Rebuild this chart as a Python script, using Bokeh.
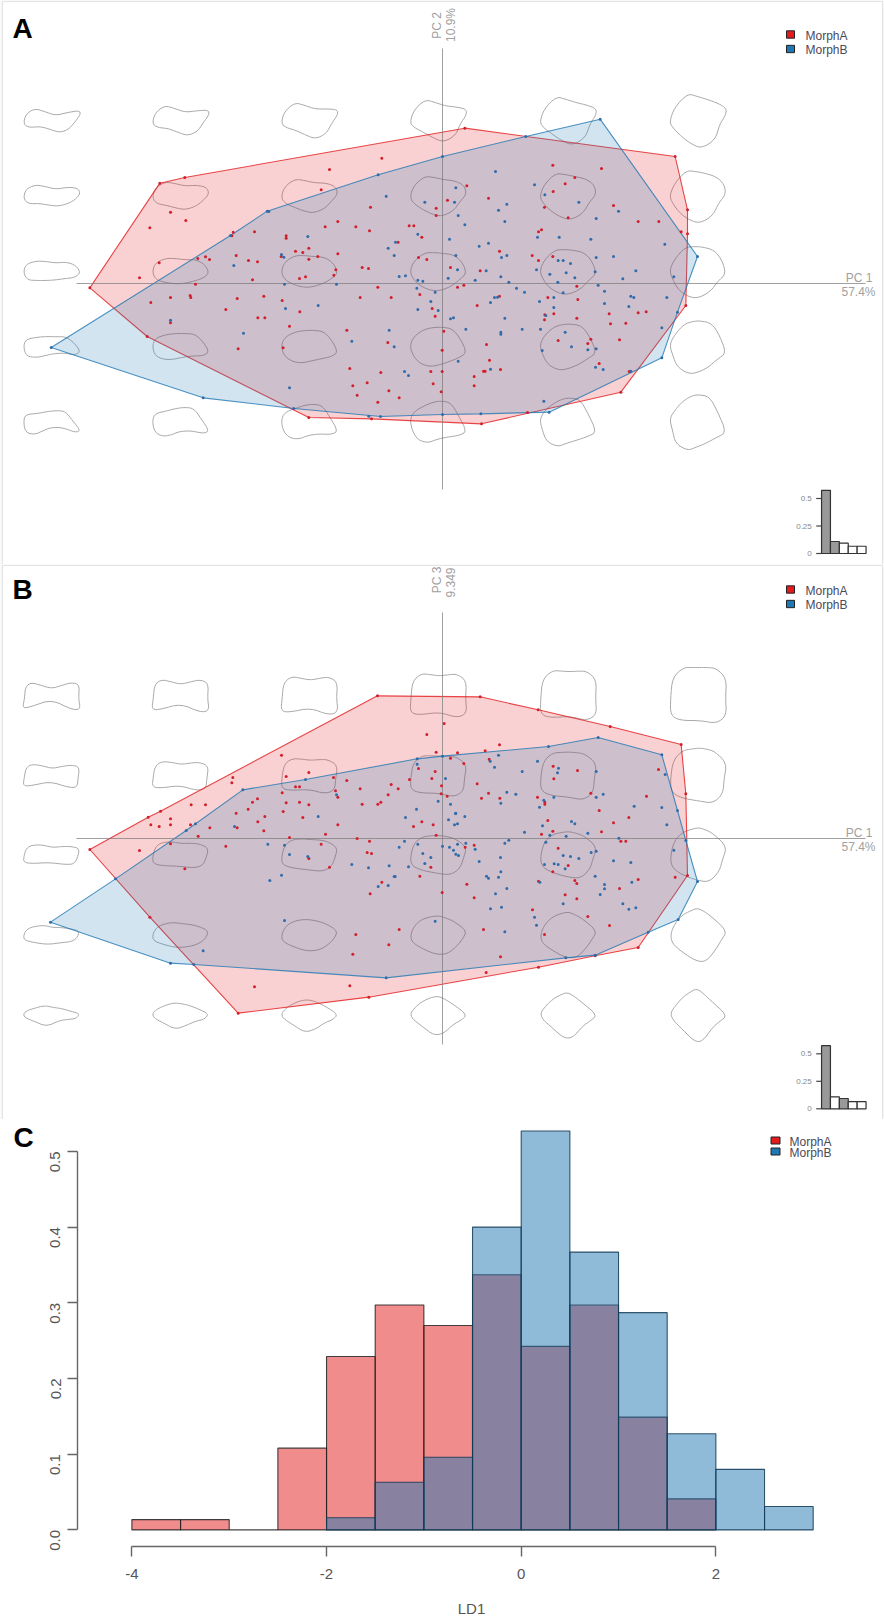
from bokeh.plotting import figure
from bokeh.models import Range1d, Label, LinearAxis, FixedTicker
from bokeh.layouts import column, row
from bokeh.core.properties import value
from bokeh.embed import file_html
from bokeh.resources import INLINE
import math

a_hull_red = [(-848,301),(-773,318),(67,466),(698,381),(735,221),(735,149),(730,-66),(535,-326),(117,-421),(-213,-406),(-401,-402),(-886,-159),(-1058,-13)]
a_hull_blue = [(473,493),(765,81),(705,-86),(658,-223),(320,-386),(115,-391),(0,-393),(-186,-399),(-446,-375),(-718,-343),(-1174,-192),(-636,144),(-526,217),(-193,326),(0,381),(250,441)]
b_hull_red = [(-195,428),(113,425),(287,386),(503,336),(716,282),(730,134),(735,-111),(587,-327),(458,-352),(288,-386),(-221,-476),(-613,-524),(-878,-236),(-1058,-33),(-883,64),(-846,82)]
b_hull_blue = [(467,303),(658,251),(705,84),(730,-6),(765,-129),(707,-243),(617,-281),(458,-350),(370,-358),(-169,-418),(-746,-378),(-816,-374),(-1176,-251),(-981,-121),(-769,24),(-599,146),(-411,177),(-76,239),(0,247),(318,276)]

a_red = [(-182,376),(-339,342),(-364,281),(-816,214),(-770,189),(-878,167),(-216,229),(-19,226),(-19,204),(-314,186),(-352,170),(-260,170),(-219,158),(-100,173),(-86,173),(-133,124),(-62,139),(-564,155),(-628,154),(-632,143),(-469,143),(-469,136),(-619,84),(-582,69),(-555,65),(-441,97),(-419,93),(-401,106),(-374,81),(-401,73),(-484,81),(-314,89),(-72,78),(-47,72),(-734,75),(-711,80),(-699,72),(-850,62),(-241,48),(-222,45),(-320,41),(-326,25),(-411,20),(-429,15),(-570,11),(-909,17),
 (-741,-2),(-194,-11),(-68,-33),(-816,-42),(-757,-36),(-755,-42),(-875,-57),(-616,-45),(-536,-38),(-481,-51),(-247,-42),(-154,-42),(-650,-78),(-428,-85),(-31,-75),(-22,-98),(-554,-103),(-533,-103),(-459,-128),(-287,-140),(-164,-177),(-613,-196),(-478,-193),(-1,-200),(-816,-118),(-278,-255),(-185,-267),(-35,-264),(-1,-264),(-226,-298),(-28,-301),(-269,-307),(-161,-322),(-4,-325),(-256,-335),(-130,-343),(-194,-356),
 (331,355),(477,345),(397,318),(368,299),(73,293),(15,250),(138,256),(332,276),(513,234),(306,229),(377,197),(587,186),(649,186),(716,155),(297,161),(288,155),(171,97),(269,84),(288,69),(331,81),(24,48),(113,38),
 (403,-8),(64,-5),(45,-11),(316,-42),(406,-48),(171,-38),(104,-66),(500,-91),(334,-91),(307,-94),(587,-88),(611,-85),(403,-104),(306,-109),(504,-121),(550,-119),(4,-143),(531,-169),(347,-171),(445,-167),(436,-180),(132,-183),(141,-230),(470,-240),(123,-263),(128,-263),(174,-258),(560,-264),(95,-279),(95,-307),(255,-387)]
a_blue = [(-169,262),(-53,244),(-521,216),(-404,141),(-74,148),(-163,106),(-141,124),(-145,84),(-483,87),(-476,79),(-626,54),
 (-474,-2),(-318,-2),(-130,21),(-111,23),(-74,10),(-59,7),(-77,-14),(-22,-26),(-35,-54),(-373,-66),(-471,-75),(-74,-78),(-13,-81),(-816,-110),(-597,-149),(-160,-140),(-272,-173),(-145,-190),(-114,-264),(-102,-276),(-459,-313),(-221,-398),
 (159,336),(276,296),(40,287),(307,266),(36,244),(193,238),(409,244),(168,220),(528,217),(47,204),(461,195),(187,186),(67,176),(21,133),(285,139),(350,139),(445,133),(138,121),(110,112),(667,118),(40,84),(177,78),(193,84),(347,69),(362,69),(384,60),(461,78),(513,81),(131,38),(282,41),(580,38),(45,41),(458,35),
 (17,16),(175,20),(199,4),(322,28),(371,32),(397,17),(98,10),(346,4),(467,-5),(541,14),(694,20),(222,-14),(246,-26),(362,-28),(486,-23),(673,-42),(156,-42),(165,-41),(144,-57),(291,-54),(334,-42),(486,-60),(565,-38),(574,-42),(559,-69),(334,-72),(310,-96),(24,-106),(33,-103),(187,-104),(658,-133),(70,-137),(175,-146),(175,-152),(239,-137),(294,-137),(368,-146),(387,-190),(461,-196),(299,-201),(436,-199),(47,-233),(144,-257),(459,-251),(482,-258),(304,-353),(565,-263)]

b_red = [(-47,312),(-19,259),(-483,250),(-401,198),(-469,186),(-629,183),(-632,167),(-441,155),(-429,155),(-327,183),(-287,174),(-99,177),(-22,201),(-32,180),(-72,210),(-154,162),(-133,149),(-247,149),(-3,158),(-4,134),(-163,131),(-321,143),(-314,124),(-555,119),(-570,109),(-481,137),(-469,107),(-429,109),(-401,101),(-583,88),(-241,103),(-194,103),(-185,109),(-478,81),(-619,76),(-754,101),(-711,101),
 (-816,59),(-875,41),(-850,36),(-816,41),(-756,41),(-698,32),(-616,32),(-533,66),(-554,50),(-536,23),(-419,63),(-314,41),(-87,36),(-62,50),(-28,41),(-733,7),(-650,-23),(-459,3),(-351,13),(-256,0),(-219,-8),(-19,10),(-909,-36),(-816,-16),(-364,-17),(-226,-42),(-213,-45),(-401,-60),(-339,-86),(-35,-86),(-773,-91),(-68,-113),(-182,-131),(-217,-166),(-1,-162),(-260,-288),(-130,-273),(-161,-319),(-269,-347),(-564,-445),(-278,-442),
 (5,345),(171,281),(128,263),(45,257),(24,241),(140,238),(64,225),(332,217),(405,204),(648,207),(334,179),(104,164),(138,136),(14,127),(285,124),(117,121),(172,121),(445,136),(612,127),(307,109),(307,103),(470,84),
 (316,54),(513,47),(559,63),(477,20),(297,13),(331,22),(535,-8),(550,-8),(95,-20),(68,-26),(347,-29),(377,-81),(331,-100),(698,-116),(288,-128),(397,-126),(403,-135),(587,-123),(73,-137),(531,-150),(368,-169),(403,-181),(95,-178),(270,-214),(436,-234),(501,-261),(123,-273),(306,-288),(174,-355),(131,-402)]
b_blue = [(-76,223),(-318,131),(-13,112),(-78,88),(-741,44),(-624,36),(-373,66),(-111,63),(-114,-8),(-130,-26),(-74,-17),(-524,-17),(-474,-20),(-459,-48),(-404,-54),(-59,-45),(-35,-57),(-53,-75),(-272,-78),(-160,-82),(-102,-85),(-222,-88),(-483,-110),(-518,-126),(-145,-114),(-142,-114),(-193,-144),(-163,-141),(-474,-246),(-22,-248),(-718,-337),
 (168,250),(143,232),(156,214),(285,232),(239,201),(348,211),(345,197),(461,201),(9,180),(668,192),(193,139),(220,133),(482,133),(461,124),(334,124),(304,115),(175,106),(24,103),(575,97),(658,93),(291,94),(40,76),
 (39,75),(67,66),(18,56),(36,41),(45,44),(387,51),(397,44),(300,38),(246,19),(322,10),(371,7),(436,16),(529,1),(673,41),(199,-5),(187,-14),(310,-11),(70,-14),(45,-17),(0,-23),(21,-26),(98,-32),(33,-35),(40,-47),(48,-51),(694,-35),(461,-38),(446,-42),(362,-51),(384,-54),(409,-60),(174,-57),(110,-69),(513,-67),(565,-72),(306,-78),(335,-76),(347,-78),(368,-91),(175,-100),(132,-113),(138,-119),(168,-116),(292,-131),(458,-113),(568,-131),(486,-138),(486,-151),(193,-150),(159,-166),(473,-168),(362,-196),(541,-196),(559,-212),(580,-208),(144,-211),(177,-206),(276,-236),(282,-260),(187,-280)]

# corner outlines of the morphospace grids (pixels from the outline's centre)
a_corners = {
    "tl": [(-28,-4),(-26,6),(-17,12),(-7,9),(4,5),(16,8),(28,10),(29,6),(23,-2),(17,-9),(8,-12),(-1,-9),(-11,-6),(-22,-7)],
    "tr": [(-29,-1),(-24,13),(-11,27),(-1,24),(9,21),(20,17),(28,12),(27,5),(21,-4),(17,-19),(3,-28),(-8,-23),(-17,-16),(-26,-7)],
    "bl": [(-28,1),(-26,8),(-14,9),(-4,11),(6,12),(14,11),(21,2),(29,-8),(24,-10),(11,-5),(-1,-5),(-10,-9),(-17,-12),(-26,-10)],
    "br": [(-29,4),(-23,13),(-16,21),(-8,26),(-1,28),(11,26),(19,11),(28,-10),(18,-15),(7,-21),(-3,-25),(-11,-28),(-23,-21),(-26,-8)],
}
b_corners = {
    "tl": [(-27,-3),(-26,9),(-20,13),(-10,10),(0,7),(10,10),(20,13),(28,11),(27,-3),(29,-14),(20,-14),(0,-4),(-20,-11),(-29,-13)],
    "tr": [(-28,-3),(-26,18),(-15,28),(-6,28),(2,28),(10,28),(18,27),(28,17),(27,-3),(28,-20),(18,-28),(2,-25),(-18,-25),(-28,-20)],
    "bl": [(-28,1),(-24,4),(-18,6),(-7,9),(2,7),(10,6),(20,3),(28,1),(25,-4),(16,-5),(8,-6),(-5,-12),(-17,-7),(-27,-3)],
    "br": [(-28,2),(-22,10),(-16,17),(-9,22),(-2,26),(5,21),(11,15),(29,-1),(21,-7),(14,-13),(4,-27),(-4,-27),(-16,-15),(-26,-5)],
}

# scree bars
scree_values = [0.574, 0.109, 0.0935, 0.066, 0.066]
scree_ticks = [0, 0.25, 0.5]
scree_labels = ["0", "0.25", "0.5"]
a_scree_fill = ["#999999", "#999999", "#ffffff", "#ffffff", "#ffffff"]
b_scree_fill = ["#999999", "#ffffff", "#999999", "#ffffff", "#ffffff"]

# LD1 histogram
bins_red = [-4, -3.5, -3, -2.5, -2, -1.5, -1, -0.5, 0, 0.5, 1, 1.5]
dens_red = [0.0136, 0.0136, 0, 0.108, 0.229, 0.297, 0.27, 0.337, 0.2425, 0.297, 0.149, 0.041]
bins_blue = [-2, -1.5, -1, -0.5, 0, 0.5, 1, 1.5, 2, 2.5]
dens_blue = [0.016, 0.063, 0.096, 0.40, 0.527, 0.367, 0.287, 0.127, 0.08, 0.031]
ld_ticks = [-4, -2, 0, 2]
ld_labels = ["-4", "-2", "0", "2"]
dens_ticks = [0, 0.1, 0.2, 0.3, 0.4, 0.5]
dens_labels = ["0.0", "0.1", "0.2", "0.3", "0.4", "0.5"]

RED = "#E41A1C"
BLUE = "#1F78B4"
FONT = "Liberation Sans"
PAGE_W = 884
COLS = [-391, -262, -133, -4, 126, 256]


def smooth(pts):
    for _ in range(2):
        out = []
        for i, (x0, y0) in enumerate(pts):
            x1, y1 = pts[(i + 1) % len(pts)]
            out.append((0.75 * x0 + 0.25 * x1, 0.75 * y0 + 0.25 * y1))
            out.append((0.25 * x0 + 0.75 * x1, 0.25 * y0 + 0.75 * y1))
        pts = out
    return pts + pts[:1]


def outline(corners, u, v):
    pts = []
    for tl, tr, bl, br in zip(corners["tl"], corners["tr"], corners["bl"], corners["br"]):
        pts.append(tuple((1 - v) * ((1 - u) * tl[k] + u * tr[k]) + v * ((1 - u) * bl[k] + u * br[k]) for k in (0, 1)))
    return smooth(pts)


def morph_panel(top, bottom, oy, rows, corners, hull_red, hull_blue, red, blue, scree_fill, scree_y0, letter, letter_y, pc_y, var_y, pc_name, var_name, legend_y):
    sx = lambda px: (px - 442) * 3
    sy = lambda py: (oy - py) * 3
    p = figure(width=PAGE_W, height=bottom - top, x_range=(-1326, 1326), y_range=(sy(bottom), sy(top)),
               output_backend="svg", toolbar_location=None, min_border=0)
    p.axis.visible = False
    p.grid.visible = False
    p.outline_line_color = None
    p.background_fill_color = "#f6f6f6"
    p.border_fill_color = "#f6f6f6"
    p.quad(left=sx(2), right=sx(882), top=sy(top + 1), bottom=sy(bottom), fill_color="white", line_color="#e4e4e4", line_width=1)

    xs, ys = [], []
    for i, cx in enumerate(COLS):
        for j, cy in enumerate(rows):
            pts = outline(corners, i / 5, j / 4)
            xs.append([(cx + x) * 3 for x, y in pts])
            ys.append([(cy + y) * 3 for x, y in pts])
    p.multi_line(xs, ys, line_color="#aaaaaa", line_width=1)

    for hull, col in ((hull_red, RED), (hull_blue, BLUE)):
        p.patch([h[0] for h in hull], [h[1] for h in hull], fill_color=col, fill_alpha=0.2, line_color=None)
        p.patch([h[0] for h in hull], [h[1] for h in hull], fill_color=None, line_color=col, line_alpha=0.8, line_width=1.1)

    p.line([0, 0], [sy(top + 48), sy(oy + 206)], line_color="#777777", line_alpha=0.7, line_width=1)
    p.line([sx(76), sx(865)], [0, 0], line_color="#777777", line_alpha=0.7, line_width=1)

    p.scatter([h[0] for h in hull_red + red], [h[1] for h in hull_red + red], size=3, color="#d21f2b", line_color=None)
    p.scatter([h[0] for h in hull_blue + blue], [h[1] for h in hull_blue + blue], size=3, color="#2f6cab", line_color=None)

    # scree inset on its own scale
    p.extra_x_ranges["scree"] = Range1d((0 - 825.5) / 8.9, (884 - 825.5) / 8.9)
    p.extra_y_ranges["scree"] = Range1d((scree_y0 - bottom) / 110, (scree_y0 - top) / 110)
    idx = list(range(len(scree_values)))
    p.vbar(idx, width=1, top=scree_values, bottom=0, fill_color=scree_fill, line_color="#333333", line_width=1.2,
           x_range_name="scree", y_range_name="scree")
    p.segment([-1.1] * 3, scree_ticks, [-0.5] * 3, scree_ticks, line_color="#444444", line_width=1.2,
              x_range_name="scree", y_range_name="scree")
    p.text([-1.6] * 3, scree_ticks, text=scree_labels, text_font=value(FONT), text_font_size="8px", text_color="#888888",
           text_align="right", text_baseline="middle", x_range_name="scree", y_range_name="scree")

    p.add_layout(Label(x=sx(12), y=sy(letter_y), text=letter, text_font=FONT, text_font_style="bold", text_font_size="28px",
                       text_color="black", text_baseline="middle", text_align="left"))
    for txt, x, y, ang in ((pc_name, 436, pc_y, math.pi / 2), (var_name, 450, var_y, math.pi / 2)):
        p.add_layout(Label(x=sx(x), y=sy(y), text=txt, text_font=FONT, text_font_size="12px", text_color="#a0a0a0",
                           angle=ang, text_align="center", text_baseline="middle"))
    p.add_layout(Label(x=sx(872), y=sy(oy - 6), text="PC 1", text_font=FONT, text_font_size="12px", text_color="#a0a0a0",
                       text_align="right", text_baseline="middle"))
    p.add_layout(Label(x=sx(875), y=sy(oy + 8), text="57.4%", text_font=FONT, text_font_size="12px", text_color="#a0a0a0",
                       text_align="right", text_baseline="middle"))
    for txt, col, y in (("MorphA", RED, legend_y), ("MorphB", BLUE, legend_y + 14.5)):
        p.rect(sx(790), sy(y), 24, 22, fill_color=col, line_color="#222222", line_width=1)
        p.add_layout(Label(x=sx(805), y=sy(y + 1), text=txt, text_font=FONT, text_font_size="12px", text_color="#4a4a58",
                           text_align="left", text_baseline="middle"))
    return p


rows_a = [163, 87.5, 12, -63.5, -139]
rows_b = [143, 63, -16, -96, -176]
pa = morph_panel(0, 564, 283, rows_a, a_corners, a_hull_red, a_hull_blue, a_red, a_blue, a_scree_fill, 553,
                 "A", 28, 25, 24.5, "PC 2", "10.9%", 34)
pb = morph_panel(564, 1119, 838, rows_b, b_corners, b_hull_red, b_hull_blue, b_red, b_blue, b_scree_fill, 1108.3,
                 "B", 589, 579.5, 582, "PC 3", "9.349", 589)

# panel C, the letter sits in its own little figure left of the axis
LETTER_W = 34
pl = figure(width=LETTER_W, height=502, x_range=(0, LETTER_W), y_range=(502, 0), output_backend="svg",
            toolbar_location=None, min_border=0, x_axis_type=None, y_axis_type=None)
pl.grid.visible = False
pl.outline_line_color = None
pl.add_layout(Label(x=13, y=21, text="C", text_font=FONT, text_font_style="bold", text_font_size="28px",
                    text_color="black", text_baseline="middle", text_align="left"))

ux = lambda px: (px - 520.7) / 97.33
uy = lambda py: (1529.4 - py) / 757
pc = figure(width=PAGE_W - LETTER_W, height=502, x_range=(ux(77), ux(865)), y_range=(uy(1546), uy(1119)),
            output_backend="svg", toolbar_location=None, x_axis_type=None, y_axis_type=None,
            min_border_left=77 - LETTER_W, min_border_right=19, min_border_top=0, min_border_bottom=75)
pc.grid.visible = False
pc.outline_line_color = None
pc.quad(left=bins_red, right=[b + 0.5 for b in bins_red], top=dens_red, bottom=0,
        fill_color=RED, fill_alpha=0.5, line_color="#222222", line_alpha=0.85, line_width=1.1)
pc.quad(left=bins_blue, right=[b + 0.5 for b in bins_blue], top=dens_blue, bottom=0,
        fill_color=BLUE, fill_alpha=0.5, line_color="#123a55", line_alpha=0.85, line_width=1.1)

xaxis = LinearAxis(ticker=FixedTicker(ticks=ld_ticks), bounds=(-4, 2),
                   major_label_overrides=dict(zip(ld_ticks, ld_labels)),
                   axis_label="LD1", axis_label_text_font=FONT, axis_label_text_font_size="15px",
                   axis_label_text_font_style="normal", axis_label_text_color="#555555", axis_label_standoff=18)
yaxis = LinearAxis(ticker=FixedTicker(ticks=dens_ticks), bounds=(0, 0.5),
                   major_label_overrides=dict(zip(dens_ticks, dens_labels)), major_label_orientation=math.pi / 2)
for ax, standoff in ((xaxis, 12), (yaxis, 12)):
    ax.axis_line_color = "#666666"
    ax.axis_line_width = 1.4
    ax.major_tick_line_color = "#666666"
    ax.major_tick_line_width = 1.4
    ax.major_tick_in = 0
    ax.major_tick_out = 10
    ax.minor_tick_line_color = None
    ax.major_label_text_font = FONT
    ax.major_label_text_font_size = "15px"
    ax.major_label_text_color = "#555555"
    ax.major_label_standoff = standoff
pc.add_layout(xaxis, "below")
pc.add_layout(yaxis, "left")

for txt, col, y in (("MorphA", RED, 1140), ("MorphB", BLUE, 1151)):
    pc.rect(ux(775), uy(y), 9 / 97.33, 7 / 757, fill_color=col, line_color="#222222", line_width=1)
    pc.add_layout(Label(x=ux(789), y=uy(y + 1), text=txt, text_font=FONT, text_font_size="12px", text_color="#4a4a58",
                        text_align="left", text_baseline="middle"))

page = column(row(pa), row(pb), row(pl, pc), spacing=0)
open("out.html", "w").write(file_html(page, INLINE))
